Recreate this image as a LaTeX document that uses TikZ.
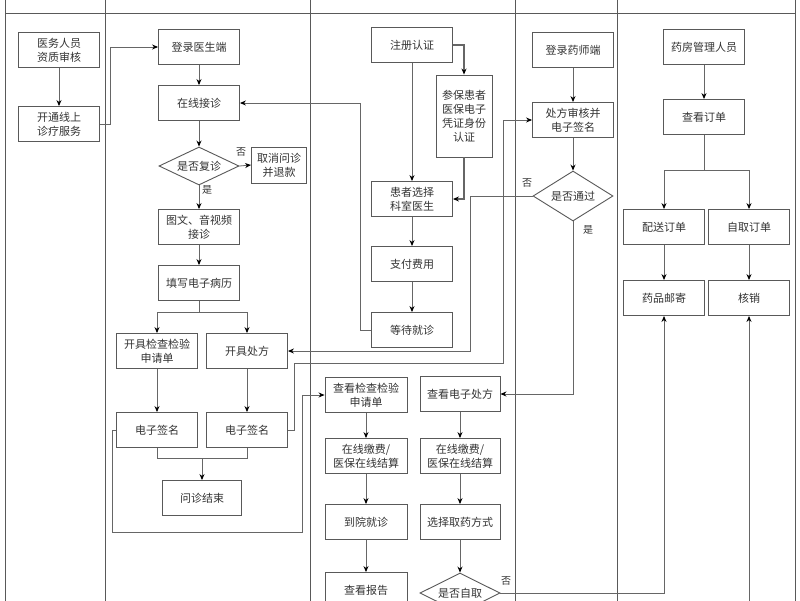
\documentclass[tikz,border=0pt]{standalone}
\usepackage{fontspec}
\newfontfamily\cjk{Noto Sans CJK SC}
\usetikzlibrary{shapes.geometric,arrows.meta}
\begin{document}
\begin{tikzpicture}[x=1pt,y=-1pt,
  box/.style={draw=black!65,line width=0.9pt,minimum width=81pt,minimum height=35pt,inner sep=1pt,align=center,font=\cjk\fontsize{11}{14}\selectfont,text=black!80},
  dia/.style={draw=black!65,line width=0.9pt,diamond,aspect=2,minimum width=80pt,inner sep=0pt,font=\cjk\fontsize{11}{14}\selectfont,text=black!80},
  ln/.style={draw=black!60,line width=0.8pt},
  ar/.style={ln,-{Stealth[length=6pt,width=5pt,black]}},
  lab/.style={font=\cjk\fontsize{10}{12}\selectfont,text=black!80}]
\useasboundingbox (0,0) rectangle (800,600);
\clip (0,0) rectangle (800,600);
\fill[white] (0,0) rectangle (800,600);
% lanes
\foreach \x in {5,105,310,515,617,795} \draw[black!65,line width=0.9pt] (\x,-5) -- (\x,605);
\draw[black!65,line width=0.9pt] (5,13) -- (795,13);
% lane 1
\node[box] (a1) at (59,50) {医务人员\\资质审核};
\node[box] (a2) at (59,124) {开通线上\\诊疗服务};
% lane 2
\node[box] (b1) at (199,47) {登录医生端};
\node[box] (b2) at (199,103) {在线接诊};
\node[dia,minimum height=38pt] (b3) at (199,166) {是否复诊};
\node[box,minimum width=55pt,minimum height=36pt] (b4) at (279,165) {取消问诊\\并退款};
\node[box] (b5) at (199,227) {图文、音视频\\接诊};
\node[box] (b6) at (199,283) {填写电子病历};
\node[box] (b7) at (157,351) {开具检查检验\\申请单};
\node[box] (b8) at (247,351) {开具处方};
\node[box] (b9) at (157,430) {电子签名};
\node[box] (b10) at (247,430) {电子签名};
\node[box,minimum width=79pt] (b11) at (202,498) {问诊结束};
% lane 3
\node[box] (c1) at (412,45) {注册认证};
\node[box,minimum width=56pt,minimum height=82pt] (c2) at (464,116) {参保患者\\医保电子\\凭证身份\\认证};
\node[box] (c3) at (412,199) {患者选择\\科室医生};
\node[box] (c4) at (412,264) {支付费用};
\node[box] (c5) at (412,330) {等待就诊};
\node[box,minimum width=82pt] (c6) at (366,395) {查看检查检验\\申请单};
\node[box,minimum width=82pt] (c7) at (366,456) {在线缴费/\\医保在线结算};
\node[box,minimum width=82pt] (c8) at (366,522) {到院就诊};
\node[box,minimum width=82pt] (c9) at (366,590) {查看报告};
\node[box,minimum width=80pt] (c10) at (460,394) {查看电子处方};
\node[box,minimum width=80pt] (c11) at (460,456) {在线缴费/\\医保在线结算};
\node[box,minimum width=80pt] (c12) at (460,522) {选择取药方式};
\node[dia,minimum height=40pt] (c13) at (460,593) {是否自取};
% lane 4
\node[box] (d1) at (573,50) {登录药师端};
\node[box] (d2) at (573,120) {处方审核并\\电子签名};
\node[dia,minimum height=50pt] (d3) at (573,196) {是否通过};
% lane 5
\node[box] (e1) at (704,47) {药房管理人员};
\node[box] (e2) at (704,117) {查看订单};
\node[box] (e3) at (664,227) {配送订单};
\node[box] (e4) at (749,227) {自取订单};
\node[box] (e5) at (664,298) {药品邮寄};
\node[box] (e6) at (749,298) {核销};
\coordinate (off) at (749,610);
% labels
\node[lab] (l1) at (241,152) {否};
\node[lab] (l2) at (207,190) {是};
\node[lab] (l3) at (527,183) {否};
\node[lab] (l4) at (588,230) {是};
\node[lab] (l5) at (506,581) {否};
% connectors
\draw[ar] (a1) -- (a2);
\draw[ar] (a2.east) -- (110,124) |- (b1.west);
\draw[ar] (b1) -- (b2);
\draw[ar] (b2) -- (b3);
\draw[ar] (b3.east) -- (b4.west);
\draw[ar] (b3.south) -- (b5.north);
\draw[ar] (b5) -- (b6);
\draw[ar] (b6.south) -- (199,312) -| (b7.north);
\draw[ar] (b6.south) -- (199,312) -| (b8.north);
\draw[ar] (b7) -- (b9);
\draw[ar] (b8) -- (b10);
\draw[ln] (b9.south) |- (202,458);
\draw[ar] (b10.south) |- (202,458) -- (b11.north);
\draw[ar] (c1) -- (c3);
\draw[ar,line width=1.1pt] (c1.east) -| (c2.north);
\draw[ar,line width=1.1pt] (c2.south) |- (c3.east);
\draw[ar] (c3) -- (c4);
\draw[ar] (c4) -- (c5);
\draw[ar] (c5.west) -- (360,330) |- (b2.east);
\draw[ar] (d3.west) -- (470,196) |- (b8.east);
\draw[ar] (b10.east) -- (294,430) |- (503,363) |- (d2.west);
\draw[ar] (b9.west) -- (112,430) |- (302,532) |- (c6.west);
\draw[ar] (d3.south) |- (c10.east);
\draw[ar] (c6) -- (c7);
\draw[ar] (c7) -- (c8);
\draw[ar] (c8) -- (c9);
\draw[ar] (c10) -- (c11);
\draw[ar] (c11) -- (c12);
\draw[ar] (c12) -- (c13);
\draw[ar] (c13.east) -| (e5.south);
\draw[ar] (off) -- (e6.south);
\draw[ar] (d1) -- (d2);
\draw[ar] (d2) -- (d3);
\draw[ar] (e1) -- (e2);
\draw[ar] (e2.south) -- (704,170) -| (e3.north);
\draw[ar] (e2.south) -- (704,170) -| (e4.north);
\draw[ar] (e3) -- (e5);
\draw[ar] (e4) -- (e6);
\end{tikzpicture}
\end{document}
